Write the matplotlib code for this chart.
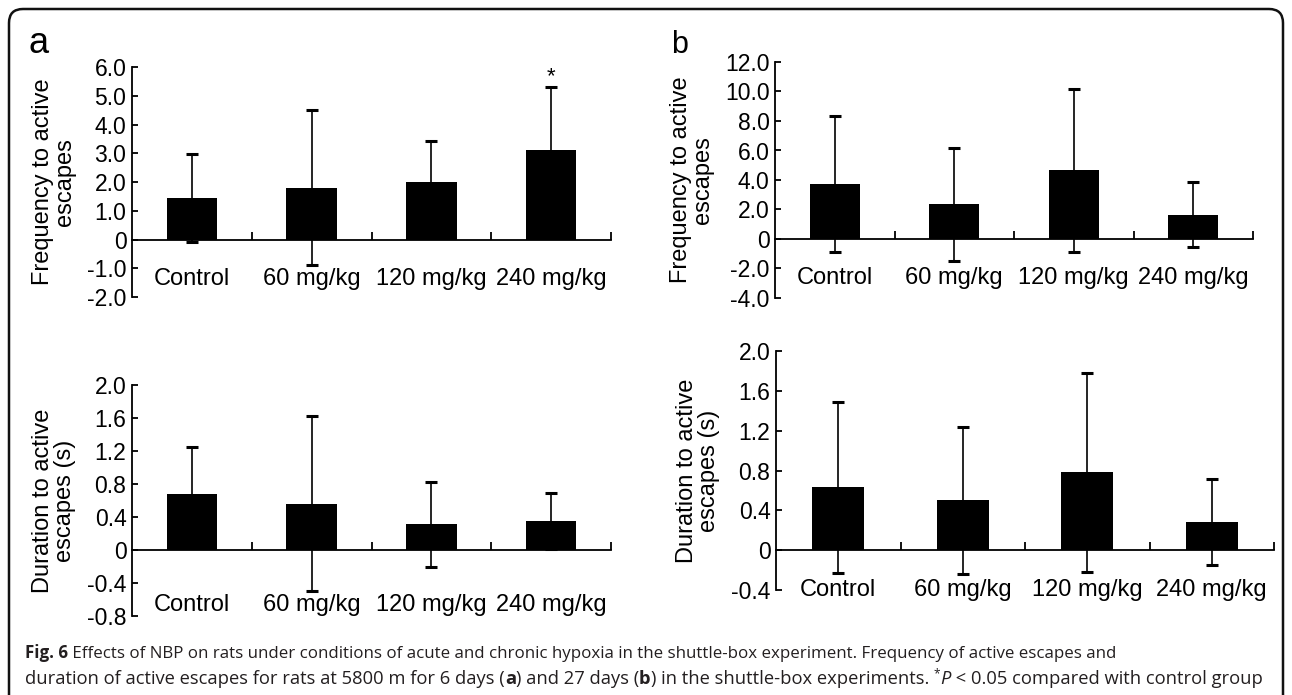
"""Shuttle-box escapes under hypoxia: NBP dose groups (Fig. 6)."""

import matplotlib

matplotlib.use("Agg")
import matplotlib.pyplot as plt
import numpy as np
from matplotlib.patches import FancyBboxPatch
from matplotlib.ticker import NullFormatter

groups = ["Control", "60 mg/kg", "120 mg/kg", "240 mg/kg"]

# a: 6 days at 5800 m
freq_6d = [1.45, 1.80, 2.00, 3.12]
freq_6d_sd = [1.52, 2.70, 1.42, 2.18]
dur_6d = [0.68, 0.56, 0.31, 0.35]
dur_6d_sd = [0.57, 1.06, 0.51, 0.34]

# b: 27 days at 5800 m
freq_27d = [3.75, 2.35, 4.65, 1.65]
freq_27d_sd = [4.60, 3.85, 5.55, 2.20]
dur_27d = [0.63, 0.50, 0.78, 0.28]
dur_27d_sd = [0.86, 0.74, 1.00, 0.43]

freq_6d_ticks = [-2.0, -1.0, 0, 1.0, 2.0, 3.0, 4.0, 5.0, 6.0]
freq_27d_ticks = [-4.0, -2.0, 0, 2.0, 4.0, 6.0, 8.0, 10.0, 12.0]
dur_6d_ticks = [-0.8, -0.4, 0, 0.4, 0.8, 1.2, 1.6, 2.0]
dur_27d_ticks = [-0.4, 0, 0.4, 0.8, 1.2, 1.6, 2.0]

W, H = 1292, 695
plt.rcParams["font.family"] = ["Liberation Sans", "DejaVu Sans"]

fig = plt.figure(figsize=(W / 100, H / 100), dpi=100)


def _axes_px(left, right, top, bottom):
    return fig.add_axes([left / W, 1 - bottom / H, (right - left) / W, (bottom - top) / H])


def _fmt(v):
    return "0" if v == 0 else f"{v:.1f}"


def _bar_panel(ax, values, sd, yticks, ylabel, label_pad, star=None):
    x = np.arange(len(groups)) + 0.5
    ax.bar(x, values, width=0.42, color="black", zorder=2)
    ax.errorbar(x, values, yerr=sd, fmt="none", ecolor="black",
                elinewidth=1.2, capsize=4.5, capthick=2.2, zorder=3)
    ax.set_xlim(0, len(groups))
    ax.set_ylim(yticks[0], yticks[-1])

    for side in ("top", "right"):
        ax.spines[side].set_visible(False)
    ax.spines["bottom"].set_position(("data", 0))
    for side in ("left", "bottom"):
        ax.spines[side].set_linewidth(1.3)

    # boundary ticks point up from the zero line, names sit under each bar
    ax.set_xticks(np.arange(1, len(groups) + 1))
    ax.xaxis.set_major_formatter(NullFormatter())
    ax.set_xticks(x, labels=groups, minor=True)
    ax.tick_params(axis="x", which="major", direction="in", length=6, width=1.3)
    ax.tick_params(axis="x", which="minor", length=0, pad=label_pad, labelsize=17)

    ax.set_yticks(yticks, labels=[_fmt(v) for v in yticks])
    ax.tick_params(axis="y", direction="in", length=4, width=1.3, pad=4, labelsize=16.5)
    ax.set_ylabel(ylabel, fontsize=17, labelpad=8, linespacing=1.0)

    if star is not None:
        ax.text(x[star], values[star] + sd[star], "*", ha="center", va="bottom", fontsize=16)


ax_a1 = _axes_px(132, 611, 67, 297)
_bar_panel(ax_a1, freq_6d, freq_6d_sd, freq_6d_ticks,
           "Frequency to active\nescapes", 20.5, star=3)
ax_b1 = _axes_px(775, 1253, 62, 298)
_bar_panel(ax_b1, freq_27d, freq_27d_sd, freq_27d_ticks,
           "Frequency to active\nescapes", 20.5)
ax_a2 = _axes_px(132, 611, 385, 616)
_bar_panel(ax_a2, dur_6d, dur_6d_sd, dur_6d_ticks,
           "Duration to active\nescapes (s)", 32)
ax_b2 = _axes_px(776, 1274, 351, 590)
_bar_panel(ax_b2, dur_27d, dur_27d_sd, dur_27d_ticks,
           "Duration to active\nescapes (s)", 20.5)

fig.text(29 / W, 1 - 53 / H, "a", fontsize=26, va="baseline", ha="left")
fig.text(671 / W, 1 - 53 / H, "b", fontsize=22, va="baseline", ha="left")

# frame round the figure, open at the bottom
frame = FancyBboxPatch((0.09, -0.3), 12.74, 7.16, boxstyle="round,pad=0,rounding_size=0.14",
                       transform=fig.dpi_scale_trans, fill=False, edgecolor="#111111",
                       linewidth=1.8, clip_on=False)
fig.patches.append(frame)

# caption with mixed styles, placed piece by piece
renderer = fig.canvas.get_renderer()
cap_color = "#231f20"


def _caption_line(pieces, x_px, baseline_px, size):
    x = x_px
    for text, style in pieces:
        kw = dict(fontsize=size, family=["Open Sans", "DejaVu Sans"], color=cap_color)
        y = baseline_px
        if style == "bold":
            kw["fontweight"] = "bold"
        elif style == "italic":
            kw["fontstyle"] = "italic"
        elif style == "sup":
            kw["fontsize"] = size * 0.65
            y -= 7
        t = fig.text(x / W, 1 - y / H, text, ha="left", va="baseline", **kw)
        x = t.get_window_extent(renderer).x1


_caption_line([
    ("Fig. 6", "bold"),
    (" Effects of NBP on rats under conditions of acute and chronic hypoxia in the "
     "shuttle-box experiment. Frequency of active escapes and", "normal"),
], 25, 658, 12.2)
_caption_line([
    ("duration of active escapes for rats at 5800 m for 6 days (", "normal"),
    ("a", "bold"),
    (") and 27 days (", "normal"),
    ("b", "bold"),
    (") in the shuttle-box experiments. ", "normal"),
    ("*", "sup"),
    ("P", "italic"),
    (" < 0.05 compared with control group", "normal"),
], 25, 684, 13.2)

fig.savefig("out.png", dpi=100)
